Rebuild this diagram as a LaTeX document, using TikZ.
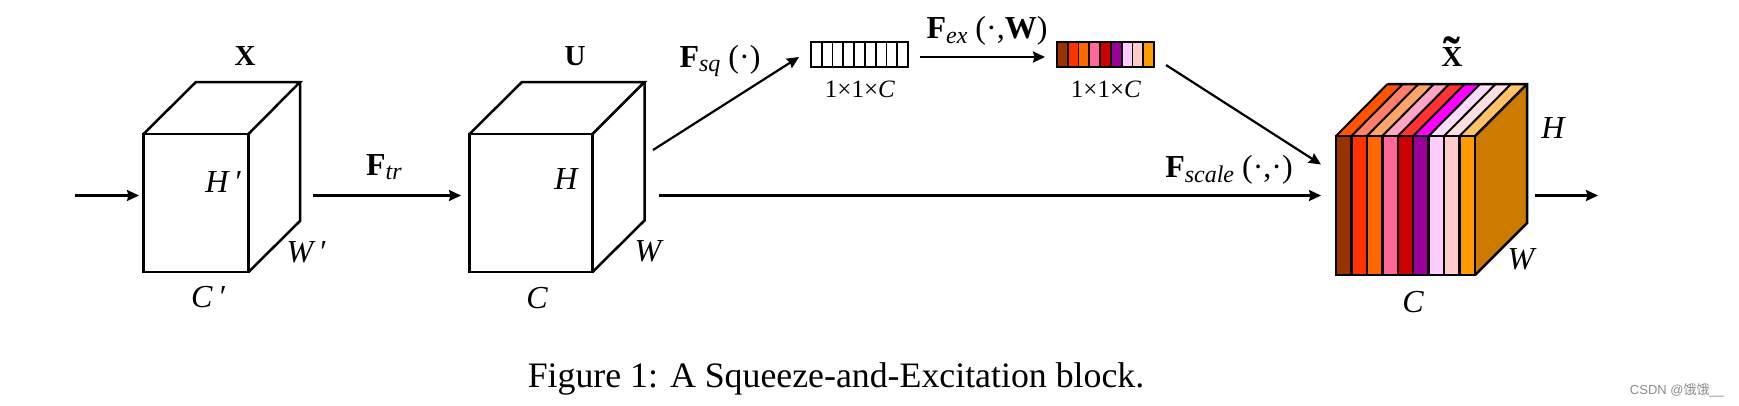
\documentclass[tikz,border=0pt]{standalone}
\usepackage{fontspec}
\setmainfont{Liberation Serif}
\newfontfamily\cjkwm{Noto Sans CJK SC}
\newfontfamily\sanswm{Liberation Sans}
\usetikzlibrary{arrows.meta}
\newcommand{\fz}[1]{\fontsize{#1pt}{#1pt}\selectfont}
\newcommand{\Sb}[1]{\raisebox{-4.5pt}{\fz{24}\textit{#1}}}
\newcommand{\Bf}[1]{\textbf{#1}}
\tikzset{
  conn/.style={line width=2.2pt,-{Stealth[length=12pt,width=11pt,inset=1.5pt]}},
  edge3/.style={line width=2.5pt,line join=miter},
  facebox/.style={draw=black,line width=2.5pt,inner sep=0pt,outer sep=0pt},
  cell/.style={draw=black,line width=1.8pt,inner sep=0pt,outer sep=0pt,minimum width=10.78pt,minimum height=25pt,anchor=north west},
  strip/.style={draw=black,line width=2.5pt,inner sep=0pt,outer sep=0pt,minimum width=15.44pt,minimum height=139pt,anchor=north west},
  lab/.style={inner sep=0pt,outer sep=0pt,font=\fz{32}\itshape},
  blab/.style={inner sep=0pt,outer sep=0pt,font=\fz{29}\bfseries},
  opl/.style={inner sep=0pt,outer sep=0pt,font=\fz{32}},
  sizel/.style={inner sep=0pt,outer sep=0pt,font=\fz{25}},
}
\definecolor{fa}{HTML}{993300}\definecolor{fb}{HTML}{FF3300}\definecolor{fc}{HTML}{FF6600}
\definecolor{fd}{HTML}{FF6699}\definecolor{fe}{HTML}{CC0000}\definecolor{ff}{HTML}{990099}
\definecolor{fg}{HTML}{FFCCFF}\definecolor{fh}{HTML}{FFCCCC}\definecolor{fi}{HTML}{FF9900}
\definecolor{ta}{HTML}{FF5500}\definecolor{tb}{HTML}{FF8066}\definecolor{tc}{HTML}{FFA366}
\definecolor{td}{HTML}{FFA6C4}\definecolor{te}{HTML}{FF3333}\definecolor{tf}{HTML}{FF00FF}
\definecolor{tg}{HTML}{FFDDFF}\definecolor{th}{HTML}{FFE0E0}\definecolor{ti}{HTML}{FFC266}
\definecolor{sidec}{HTML}{CC7A00}
\begin{document}
\begin{tikzpicture}[x=1pt,y=-1pt]
\useasboundingbox (0,0) rectangle (1739,405);
\fill[white] (0,0) rectangle (1739,405);
% cube X
\node[facebox,minimum width=105pt,minimum height=138pt,anchor=north west] (frontX) at (143.5,134) {};
\draw[edge3] (frontX.north west) -- (196,82) -- (300,82) -- (frontX.north east);
\draw[edge3] (300,82) -- (300,221) -- (frontX.south east);
% cube U
\node[facebox,minimum width=123pt,minimum height=138pt,anchor=north west] (frontU) at (469.5,134) {};
\draw[edge3] (frontU.north west) -- (522,82) -- (644.5,82) -- (frontU.north east);
\draw[edge3] (644.5,82) -- (644.5,220.5) -- (frontU.south east);
% cube X tilde: top, side, then front strips
\foreach \i/\c in {0/ta,1/tb,2/tc,3/td,4/te,5/tf,6/tg,7/th,8/ti}{
  \fill[\c] ({1336+\i*15.44},136) -- ({1387.5+\i*15.44},84) -- ({1387.5+(\i+1)*15.44},84) -- ({1336+(\i+1)*15.44},136) -- cycle;
  \draw[line width=2pt] ({1336+\i*15.44},136) -- ({1387.5+\i*15.44},84);
}
\fill[sidec] (1475,136) -- (1527,84) -- (1527,223) -- (1475,275) -- cycle;
\draw[edge3] (1387.5,84) -- (1527,84) -- (1527,223) -- (1475,275);
\draw[edge3] (1475,136) -- (1527,84);
\foreach \i/\c in {0/fa,1/fb,2/fc,3/fd,4/fe,5/ff,6/fg,7/fh,8/fi}{
  \node[strip,fill=\c] (s\i) at ({1336+\i*15.44},136) {};
}
% vectors
\foreach \i in {0,...,8}{
  \node[cell] (a\i) at ({811+\i*10.78},42) {};
}
\foreach \i/\c in {0/fa,1/fb,2/fc,3/fd,4/fe,5/ff,6/fg,7/fh,8/fi}{
  \node[cell,fill=\c] (b\i) at ({1057+\i*10.78},42) {};
}
% connector ends
\coordinate (p1) at (75,195.5);
\coordinate (p2) at (139,195.5);
\coordinate (p3) at (313,195.5);
\coordinate (p4) at (461,195.5);
\coordinate (p5) at (659,195.5);
\coordinate (p6) at (1321,195.5);
\coordinate (p7) at (653,150);
\coordinate (p8) at (799,57);
\coordinate (p9) at (920,57);
\coordinate (p10) at (1045,57);
\coordinate (p11) at (1166,65);
\coordinate (p12) at (1321,164.5);
\coordinate (p13) at (1535,195.5);
\coordinate (p14) at (1598,195.5);
\draw[conn] (p1) -- (p2);
\draw[conn] (p3) -- (p4);
\draw[conn] (p5) -- (p6);
\draw[conn] (p7) -- (p8);
\draw[conn] (p9) -- (p10);
\draw[conn] (p11) -- (p12);
\draw[conn] (p13) -- (p14);
% labels
\node[blab] (lX) at (245,56) {X};
\node[blab] (lU) at (575,56) {U};
\node[blab,anchor=base] (lXt) at (1452,66) {\makebox[0pt][c]{\raisebox{-5pt}{\fz{50}˜}}\makebox[0pt][c]{X}};
\node[lab] (hX) at (223,182) {H\,′};
\node[lab] (wX) at (306,252) {W\,′};
\node[lab] (cX) at (208,297) {C\,′};
\node[lab] (hU) at (566,179) {H};
\node[lab] (wU) at (648,251) {W};
\node[lab] (cU) at (537,298) {C};
\node[lab] (hT) at (1553,128) {H};
\node[lab] (wT) at (1521,259) {W};
\node[lab] (cT) at (1413,302) {C};
\node[opl] (ftr) at (384,167) {\Bf{F}\Sb{tr}};
\node[opl] (fsq) at (720,61) {\Bf{F}\Sb{sq}\ (·)};
\node[opl] (fex) at (987,31) {\Bf{F}\Sb{ex}\ (·,\Bf{W})};
\node[opl] (fsc) at (1229,170) {\Bf{F}\Sb{scale}\ (·,·)};
\node[sizel] (s1) at (860,89) {1×1×\textit{C}};
\node[sizel] (s2) at (1106,89) {1×1×\textit{C}};
\node[inner sep=0pt,font=\fz{35.8}] (cap) at (836,379) {Figure 1: A Squeeze-and-Excitation block.};
\node[inner sep=0pt,font=\fz{13},text=black!45] (wm) at (1677,390) {\sanswm CSDN @\cjkwm 饿饿\sanswm\_\_};
\end{tikzpicture}
\end{document}
